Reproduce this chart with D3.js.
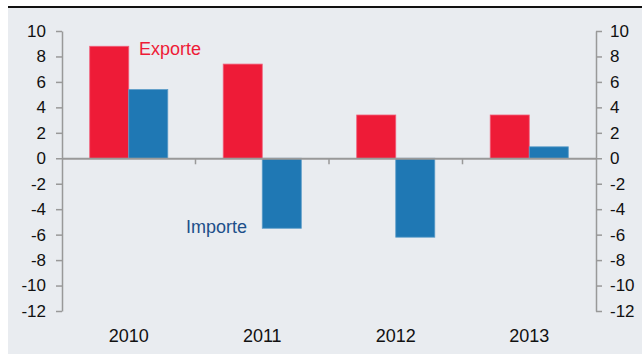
<!DOCTYPE html>
<html>
<head>
<meta charset="utf-8">
<script src="https://cdnjs.cloudflare.com/ajax/libs/d3/7.8.5/d3.min.js"></script>
<style>
  body { margin: 0; background: #fff; }
  text { font-family: "Liberation Sans", Arial, sans-serif; }
</style>
</head>
<body>
<div id="chart"></div>
<script>
var svgWidth = 642;
var svgHeight = 354;

// Data
var years = ["2010", "2011", "2012", "2013"];
var exporte = [8.8, 7.4, 3.4, 3.4];
var importe = [5.4, -5.5, -6.2, 0.9];
var series = ["Exporte", "Importe"];
var yTicks = [-12, -10, -8, -6, -4, -2, 0, 2, 4, 6, 8, 10];

var colors = { Exporte: "#ee1b37", Importe: "#1f78b4" };
var strokes = { Exporte: "#f0607a", Importe: "#5b9cc8" };

var margin = { top: 31, right: 46, bottom: 43, left: 62 };
var width = svgWidth - margin.left - margin.right;
var height = svgHeight - margin.top - margin.bottom;

var svg = d3.select("#chart")
    .append("svg")
    .attr("width", svgWidth)
    .attr("height", svgHeight);

// panel background and top rule
svg.append("rect")
    .attr("x", 8).attr("y", 7)
    .attr("width", svgWidth - 8).attr("height", svgHeight - 7)
    .attr("fill", "#e9ecf0");
svg.append("line")
    .attr("x1", 8).attr("x2", svgWidth)
    .attr("y1", 7).attr("y2", 7)
    .attr("stroke", "#111").attr("stroke-width", 2);

var chartGroup = svg.append("g")
    .attr("transform", `translate(${margin.left}, ${margin.top})`);

var xScale = d3.scaleBand()
    .domain(years)
    .range([0, width])
    .padding(0);

var xSub = d3.scaleBand()
    .domain(series)
    .range([0, xScale.bandwidth()])
    .paddingInner(0)
    .paddingOuter(0.71);

var yScale = d3.scaleLinear()
    .domain([-12, 10])
    .range([height, 0]);

var rows = years.map(function(y, i) {
    return { year: y, Exporte: exporte[i], Importe: importe[i] };
});

// bars
var groups = chartGroup.selectAll(".year")
    .data(rows)
    .enter()
    .append("g")
    .attr("transform", d => `translate(${xScale(d.year)}, 0)`);

groups.selectAll("rect")
    .data(d => series.map(s => ({ key: s, value: d[s] })))
    .enter()
    .append("rect")
    .attr("x", d => xSub(d.key))
    .attr("width", xSub.bandwidth())
    .attr("y", d => yScale(Math.max(0, d.value)))
    .attr("height", d => Math.abs(yScale(d.value) - yScale(0)))
    .attr("fill", d => colors[d.key])
    .attr("stroke", d => strokes[d.key])
    .attr("stroke-width", 0.8);

// zero line with category separators
var xAxis = chartGroup.append("g")
    .attr("transform", `translate(0, ${yScale(0)})`)
    .call(d3.axisBottom(xScale).tickSize(0).tickFormat(""));
xAxis.select(".domain").attr("stroke", "#999").attr("stroke-width", 2);

chartGroup.append("g")
    .attr("transform", `translate(0, ${yScale(0)})`)
    .selectAll("line")
    .data(years.slice(1))
    .enter()
    .append("line")
    .attr("x1", d => xScale(d)).attr("x2", d => xScale(d))
    .attr("y1", 0).attr("y2", 6)
    .attr("stroke", "#999").attr("stroke-width", 1.5);

// year labels
chartGroup.selectAll(".yearLabel")
    .data(years)
    .enter()
    .append("text")
    .attr("x", d => xScale(d) + xScale.bandwidth() / 2)
    .attr("y", height + 31)
    .attr("text-anchor", "middle")
    .attr("font-size", "18px")
    .attr("fill", "#111")
    .text(d => d);

// y axes
function styleAxis(g) {
    g.selectAll(".domain").attr("stroke", "#999").attr("stroke-width", 1.5);
    g.selectAll(".tick line").attr("stroke", "#999").attr("stroke-width", 1.5);
    g.selectAll(".tick text")
        .attr("font-size", "17px")
        .attr("fill", "#111")
        .attr("font-family", "Liberation Sans, Arial, sans-serif");
}

var leftAxis = chartGroup.append("g")
    .call(d3.axisLeft(yScale).tickValues(yTicks).tickSize(6).tickSizeOuter(0)
        .tickPadding(10).tickFormat(d => String(d)));
styleAxis(leftAxis);

var rightAxis = chartGroup.append("g")
    .attr("transform", `translate(${width}, 0)`)
    .call(d3.axisRight(yScale).tickValues(yTicks).tickSize(6).tickSizeOuter(0)
        .tickPadding(8).tickFormat(d => String(d)));
styleAxis(rightAxis);

// series labels
chartGroup.append("text")
    .attr("x", xScale("2010") + 77)
    .attr("y", yScale(8.8) + 9)
    .attr("font-size", "18px")
    .attr("fill", "#ee1b37")
    .text("Exporte");

chartGroup.append("text")
    .attr("x", xScale("2010") + 124)
    .attr("y", yScale(-5.9))
    .attr("font-size", "18px")
    .attr("fill", "#1d4f8a")
    .text("Importe");
</script>
</body>
</html>
